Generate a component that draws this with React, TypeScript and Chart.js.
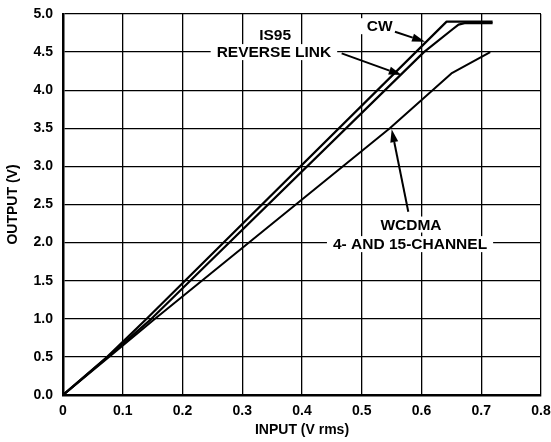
import React, { useEffect, useRef } from "react";
import { Chart, registerables } from "chart.js";

Chart.register(...registerables);

// ---- Data ----
const cwX = [0, 0.074, 0.14, 0.642, 0.719];
const cwY = [0, 0.5, 1.0, 4.9, 4.9];

const is95X = [0, 0.075, 0.148, 0.604, 0.652, 0.662, 0.672, 0.719];
const is95Y = [0, 0.5, 1.0, 4.5, 4.8, 4.86, 4.88, 4.88];

const wcdmaX = [0, 0.077, 0.154, 0.547, 0.65, 0.715];
const wcdmaY = [0, 0.5, 1.0, 3.5, 4.22, 4.5];

const xTickValues = [0, 0.1, 0.2, 0.3, 0.4, 0.5, 0.6, 0.7, 0.8];
const xTickLabels = ["0", "0.1", "0.2", "0.3", "0.4", "0.5", "0.6", "0.7", "0.8"];
const yTickLabels = ["0.0", "0.5", "1.0", "1.5", "2.0", "2.5", "3.0", "3.5", "4.0", "4.5", "5.0"];

const xTitle = "INPUT (V rms)";
const yTitle = "OUTPUT (V)";

// annotation labels: text, center in data units
const labelTexts = ["CW", "IS95", "REVERSE LINK", "WCDMA", "4- AND 15-CHANNEL"];
const labelX = [0.53, 0.355, 0.353, 0.5824, 0.5808];
const labelY = [4.84, 4.73, 4.5, 2.237, 1.98];

// arrows: from (fx, fy) to tip (tx, ty), data units
const arrowFromX = [0.5556, 0.4664, 0.5779];
const arrowFromY = [4.768, 4.484, 2.405];
const arrowToX = [0.6059, 0.5669, 0.5501];
const arrowToY = [4.636, 4.199, 3.487];

const FONT = "'Liberation Sans', Arial, Helvetica, sans-serif";

const toPts = (xs: number[], ys: number[]) => xs.map((x, i) => ({ x, y: ys[i] }));

const annotationPlugin = {
  id: "annotations",
  afterDatasetsDraw(chart: any) {
    const ctx = chart.ctx as CanvasRenderingContext2D;
    const xs = chart.scales.x;
    const ys = chart.scales.y;
    ctx.save();
    ctx.font = `bold 15.5px ${FONT}`;
    ctx.textAlign = "center";
    ctx.textBaseline = "middle";
    labelTexts.forEach((t, i) => {
      const px = xs.getPixelForValue(labelX[i]);
      const py = ys.getPixelForValue(labelY[i]);
      const w = ctx.measureText(t).width;
      ctx.fillStyle = "#ffffff";
      ctx.fillRect(px - w / 2 - 6, py - 8, w + 12, 16);
    });
    labelTexts.forEach((t, i) => {
      const px = xs.getPixelForValue(labelX[i]);
      const py = ys.getPixelForValue(labelY[i]);
      ctx.fillStyle = "#000000";
      ctx.fillText(t, px, py + 1);
    });
    // arrows
    ctx.strokeStyle = "#000";
    ctx.fillStyle = "#000";
    ctx.lineWidth = 2;
    arrowFromX.forEach((fx, i) => {
      const x1 = xs.getPixelForValue(fx);
      const y1 = ys.getPixelForValue(arrowFromY[i]);
      const x2 = xs.getPixelForValue(arrowToX[i]);
      const y2 = ys.getPixelForValue(arrowToY[i]);
      const ang = Math.atan2(y2 - y1, x2 - x1);
      const L = 13;
      const W = 4;
      const bx = x2 - L * Math.cos(ang);
      const by = y2 - L * Math.sin(ang);
      ctx.beginPath();
      ctx.moveTo(x1, y1);
      ctx.lineTo(bx, by);
      ctx.stroke();
      ctx.beginPath();
      ctx.moveTo(x2, y2);
      ctx.lineTo(bx + W * Math.sin(ang), by - W * Math.cos(ang));
      ctx.lineTo(bx - W * Math.sin(ang), by + W * Math.cos(ang));
      ctx.closePath();
      ctx.fill();
    });
    ctx.restore();
  },
};

export default function App() {
  const ref = useRef<HTMLCanvasElement | null>(null);
  useEffect(() => {
    document.body.style.margin = "0";
    if (!ref.current) return;
    const lineStyle = {
      showLine: true,
      borderColor: "#000",
      backgroundColor: "#000",
      pointRadius: 0,
      tension: 0,
      fill: false,
      borderJoinStyle: "round",
    };
    const chart = new Chart(ref.current, {
      type: "scatter",
      data: {
        datasets: [
          { label: "CW", data: toPts(cwX, cwY), borderWidth: 2.2, ...lineStyle },
          { label: "IS95 REVERSE LINK", data: toPts(is95X, is95Y), borderWidth: 2.2, ...lineStyle },
          { label: "WCDMA", data: toPts(wcdmaX, wcdmaY), borderWidth: 2, ...lineStyle },
        ],
      },
      options: {
        animation: false,
        responsive: true,
        maintainAspectRatio: false,
        layout: { padding: { top: 14, right: 10, bottom: 0, left: 0 } },
        plugins: { legend: { display: false }, tooltip: { enabled: false } },
        scales: {
          x: {
            type: "linear",
            min: 0,
            max: 0.8,
            afterBuildTicks: (s: any) => {
              s.ticks = xTickValues.map((v) => ({ value: v }));
            },
            afterFit: (s: any) => {
              s.height = 47;
              s.paddingLeft = 0;
              s.paddingRight = 0;
            },
            ticks: {
              color: "#000",
              padding: 8,
              font: { family: FONT, size: 14, weight: "bold" },
              callback: (v: any) => xTickLabels[xTickValues.findIndex((t) => Math.abs(t - v) < 1e-6)] ?? "",
            },
            grid: { color: "#000", lineWidth: 1.3, drawTicks: false },
            border: { color: "#000", width: 2.5 },
            title: {
              display: true,
              text: xTitle,
              color: "#000",
              font: { family: FONT, size: 14, weight: "bold" },
              padding: { top: 0, bottom: 3 },
            },
          },
          y: {
            type: "linear",
            min: 0,
            max: 5,
            afterBuildTicks: (s: any) => {
              s.ticks = yTickLabels.map((_, i) => ({ value: i * 0.5 }));
            },
            afterFit: (s: any) => {
              s.width = 63;
              s.paddingTop = 0;
              s.paddingBottom = 0;
            },
            ticks: {
              color: "#000",
              padding: 10,
              font: { family: FONT, size: 14, weight: "bold" },
              callback: (v: any) => yTickLabels[Math.round(Number(v) / 0.5)] ?? "",
            },
            grid: { color: "#000", lineWidth: 1.3, drawTicks: false },
            border: { color: "#000", width: 2.5 },
            title: {
              display: true,
              text: yTitle,
              color: "#000",
              font: { family: FONT, size: 14, weight: "bold" },
              padding: { top: 5, bottom: 0 },
            },
          },
        },
      },
      plugins: [annotationPlugin],
    } as any);
    return () => chart.destroy();
  }, []);
  return (
    <div style={{ position: "absolute", left: 0, top: 0, width: 551, height: 442 }}>
      <canvas ref={ref} />
    </div>
  );
}
